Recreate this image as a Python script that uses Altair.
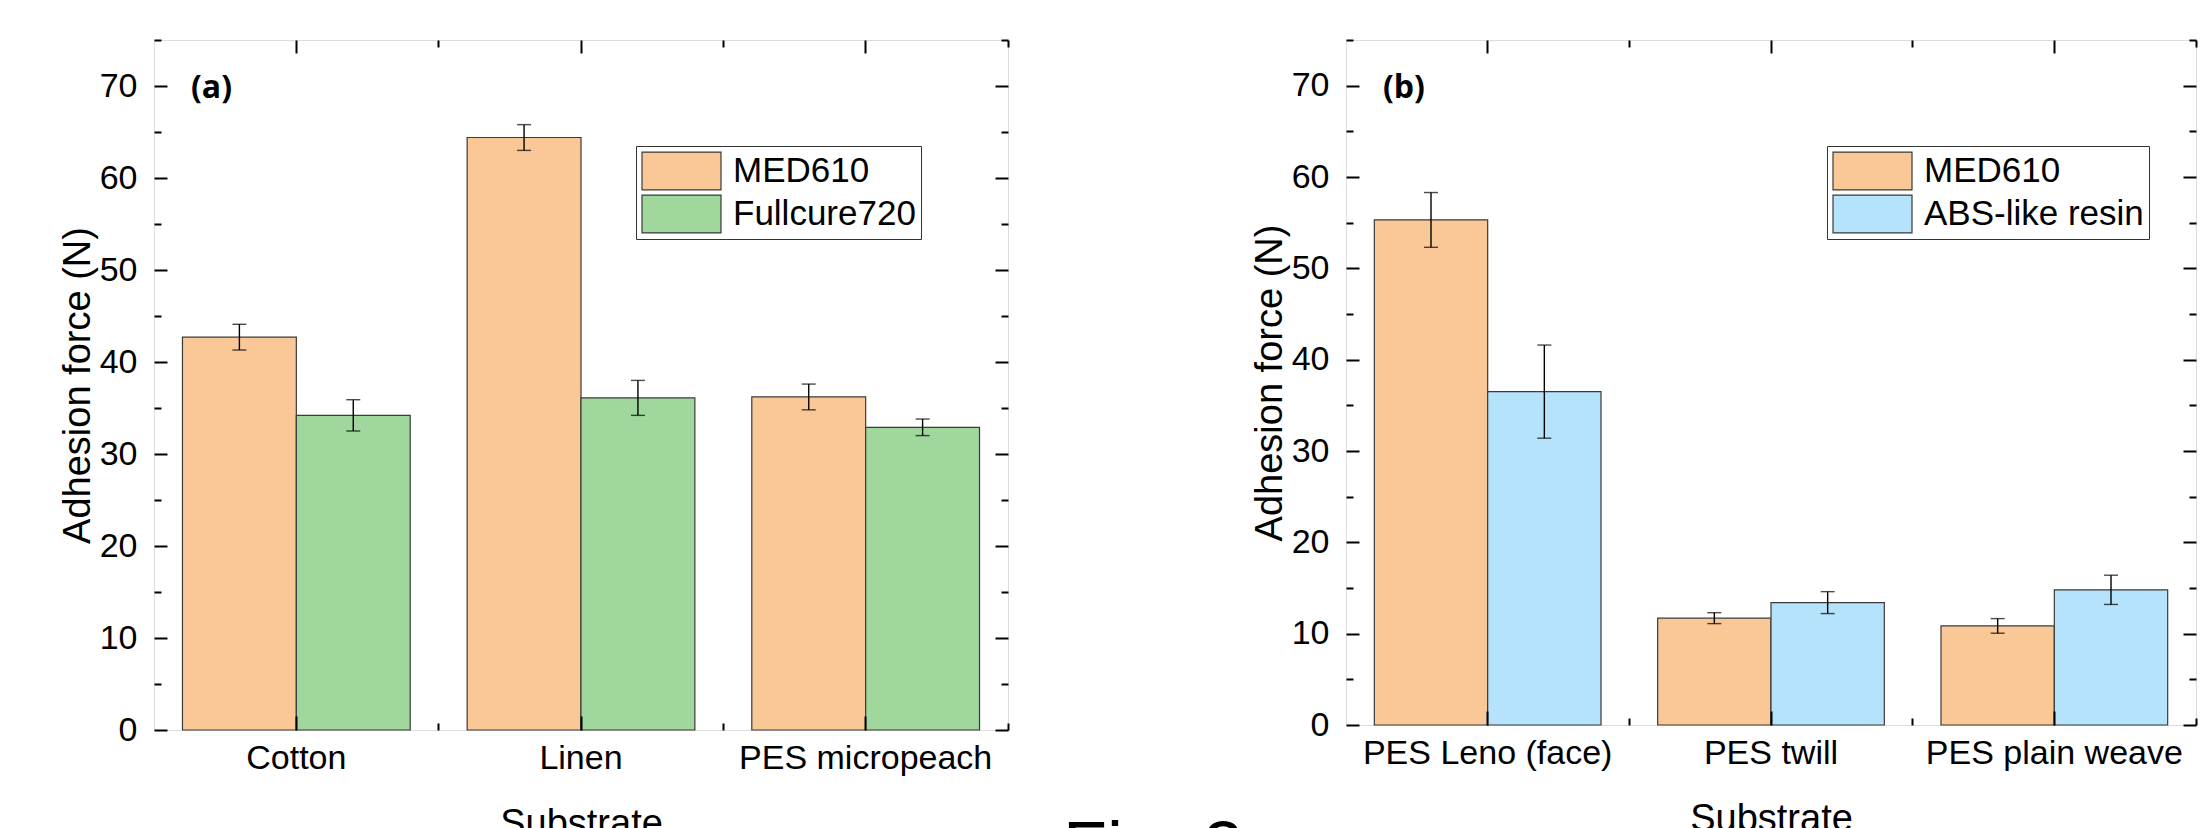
import altair as alt
import pandas as pd

# ---------------- data ----------------
cats_a = ["Cotton", "Linen", "PES micropeach"]
series_a = ["MED610", "Fullcure720"]
med610_a = [42.7, 64.4, 36.2]
med610_a_err = [1.4, 1.4, 1.4]
fullcure720 = [34.2, 36.1, 32.9]
fullcure720_err = [1.7, 1.9, 0.9]

cats_b = ["PES Leno (face)", "PES twill", "PES plain weave"]
series_b = ["MED610", "ABS-like resin"]
med610_b = [55.3, 11.7, 10.85]
med610_b_err = [3.0, 0.6, 0.8]
abs_resin = [36.5, 13.4, 14.8]
abs_resin_err = [5.1, 1.2, 1.6]

colors_a = ["#FAC896", "#9FD79D"]
colors_b = ["#FAC896", "#B5E3FB"]

y_major = [0, 10, 20, 30, 40, 50, 60, 70]
y_minor = [5, 15, 25, 35, 45, 55, 65, 75]

caption = "Fig. 2"

FONT = "Liberation Sans"


def make_df(cats, series, vals, errs):
    rows = []
    for s, v, e in zip(series, vals, errs):
        for c, vv, ee in zip(cats, v, e):
            rows.append({"cat": c, "series": s, "value": vv,
                         "lo": vv - ee, "hi": vv + ee})
    return pd.DataFrame(rows)


def panel(df, cats, series, colors, w, h, tag, lx, ly, extra=None):
    xs = alt.Scale(paddingInner=0.2, paddingOuter=0.1)
    ys = alt.Scale(domain=[0, 75], nice=False, zero=True)
    tick_common = dict(labels=False, domain=False, grid=False, title=None,
                       tickColor="black", tickWidth=2, zindex=2)

    def X(axis):
        return alt.X("cat:N", sort=cats, scale=xs, axis=axis)

    def Y(field, axis):
        return alt.Y(field, type="quantitative", scale=ys, axis=axis)

    xo = alt.XOffset("series:N", sort=series, scale=alt.Scale(domain=series))
    color = alt.Color(
        "series:N", sort=series,
        scale=alt.Scale(domain=series, range=colors),
        legend=alt.Legend(
            title=None, orient="none", legendX=lx, legendY=ly,
            symbolType="M-1,-0.48H1V0.48H-1Z", symbolSize=6241,
            symbolStrokeColor="#3a3a3a", symbolStrokeWidth=1.2,
            symbolOpacity=1, clipHeight=40,
            labelFontSize=35, labelFont=FONT, labelColor="black",
            labelOffset=11, rowPadding=3, padding=5, labelLimit=500,
            strokeColor="#333333", fillColor="white",
        ),
    )

    base = alt.Chart(df)
    bars = base.mark_bar(stroke="#3a3a3a", strokeWidth=1.2, opacity=1).encode(
        x=X(alt.Axis(orient="bottom", title="Substrate", ticks=False, domain=False,
                     labelAngle=0, labelFontSize=34, labelFont=FONT, labelColor="black",
                     labelLimit=600, labelPadding=11, titleFontSize=38, titleFont=FONT,
                     titleFontWeight="normal", titleColor="black", titlePadding=30)),
        xOffset=xo,
        y=Y("value", alt.Axis(orient="left", values=y_major, title="Adhesion force (N)",
                             ticks=False, domain=False, grid=False,
                             labelFontSize=34, labelFont=FONT, labelColor="black",
                             labelPadding=17, titleFontSize=38, titleFont=FONT,
                             titleFontWeight="normal", titleColor="black",
                             titlePadding=2)),
        color=color,
    )
    rule = base.mark_rule(color="black", strokeWidth=1.4).encode(
        x=X(alt.Axis(orient="top", offset=-h, tickSize=14, **tick_common)),
        xOffset=xo,
        y=Y("lo", alt.Axis(orient="right", offset=-w, values=y_major, tickSize=13,
                          **tick_common)),
        y2="hi:Q",
    )
    cap_hi = base.mark_tick(color="black", thickness=1.4, size=14,
                            orient="horizontal").encode(
        x=X(alt.Axis(orient="bottom", offset=-h, tickSize=13, **tick_common)),
        xOffset=xo,
        y=Y("hi", alt.Axis(orient="left", offset=-w, values=y_major, tickSize=13,
                          **tick_common)),
    )
    cap_lo = base.mark_tick(color="black", thickness=1.4, size=14,
                            orient="horizontal").encode(
        x=X(alt.Axis(orient="top", offset=-h, tickSize=7, bandPosition=1.125,
                     **tick_common)),
        xOffset=xo,
        y=Y("lo", alt.Axis(orient="right", offset=-w, values=y_minor, tickSize=7,
                          **tick_common)),
    )
    dummy = base.mark_point(opacity=0).encode(
        x=X(alt.Axis(orient="bottom", offset=-h, tickSize=7, bandPosition=1.125,
                     **tick_common)),
        y=Y("value", alt.Axis(orient="left", offset=-w, values=y_minor, tickSize=7,
                             **tick_common)),
    )
    label = alt.Chart(pd.DataFrame({"t": [tag]})).mark_text(
        fontSize=32, fontWeight="bold", font="Open Sans", align="left",
        baseline="alphabetic", color="black",
    ).encode(text="t:N", x=alt.value(37), y=alt.value(58))

    layers = [bars, rule, cap_hi, cap_lo, dummy, label]
    if extra is not None:
        layers.append(extra)
    return alt.layer(*layers).resolve_axis(
        x="independent", y="independent"
    ).properties(width=w, height=h)


df_a = make_df(cats_a, series_a, [med610_a, fullcure720], [med610_a_err, fullcure720_err])
df_b = make_df(cats_b, series_b, [med610_b, abs_resin], [med610_b_err, abs_resin_err])

# figure caption, partly cut off at the bottom edge as in the reference
cap_text = alt.Chart(pd.DataFrame({"t": [caption]})).mark_text(
    fontSize=72, font=FONT, align="left", baseline="alphabetic", color="black",
).encode(text="t:N", x=alt.value(-283), y=alt.value(832))

pa = panel(df_a, cats_a, series_a, colors_a, 854, 690, "(a)", 482, 106)
pb = panel(df_b, cats_b, series_b, colors_b, 850, 685, "(b)", 481, 106, extra=cap_text)

chart = alt.hconcat(pa, pb, spacing=52).resolve_scale(
    color="independent", xOffset="independent"
).properties(
    padding={"left": 50, "top": 30, "right": 0, "bottom": 0},
    background="white",
).configure_view(stroke="black", strokeWidth=2).configure(font=FONT)

chart.save("out.html", embed_options={"renderer": "svg", "actions": False})
